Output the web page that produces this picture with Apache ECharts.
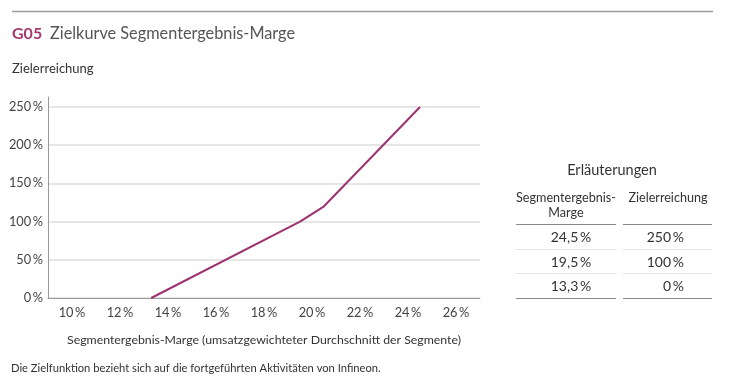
<!DOCTYPE html>
<html><head><meta charset="utf-8">
<script src="https://cdn.jsdelivr.net/npm/echarts@6/dist/echarts.min.js"></script>
<style>html,body{margin:0;padding:0;background:#fff}#c{width:732px;height:383px}</style>
</head><body><div id="c"></div>
<script>
const margins = [13.3, 19.5, 20.5, 24.5];
const achievement = [0, 100, 120, 250];
const tableMargins = ['24,5\u2009%', '19,5\u2009%', '13,3\u2009%'];
const tableAchievement = ['250\u2009%', '100\u2009%', '0\u2009%'];
const titleCode = 'G05';
const titleText = 'Zielkurve Segmentergebnis-Marge';
const yAxisTitle = 'Zielerreichung';
const xAxisTitle = 'Segmentergebnis-Marge (umsatzgewichteter Durchschnitt der Segmente)';
const footnote = 'Die Zielfunktion bezieht sich auf die fortgeführten Aktivitäten von Infineon.';

const FONT = 'Lato';
const chart = echarts.init(document.getElementById('c'));
const rowY = [237, 262, 286];
const g = [
  {type:'line', shape:{x1:12,y1:11.5,x2:713,y2:11.5}, style:{stroke:'#9a9a9a', lineWidth:1.5}},
  {type:'text', x:12, y:34, style:{text:titleCode, font:'bold 16px '+FONT, fill:'#a3386f', verticalAlign:'middle'}},
  {type:'text', x:50, y:34, style:{text:titleText, font:'16.3px '+FONT, fill:'#555', verticalAlign:'middle'}},
  {type:'text', x:12, y:69, style:{text:yAxisTitle, font:'13px '+FONT, fill:'#333', verticalAlign:'middle'}},
  {type:'text', x:11, y:368, style:{text:footnote, font:'11.2px '+FONT, fill:'#333', verticalAlign:'middle'}},
  {type:'text', x:612, y:170, style:{text:'Erläuterungen', font:'14.5px '+FONT, fill:'#333', align:'center', verticalAlign:'middle'}},
  {type:'text', x:566, y:205, style:{text:'Segmentergebnis-\nMarge', font:'12.6px '+FONT, lineHeight:15, fill:'#333', align:'center', verticalAlign:'middle'}},
  {type:'text', x:668, y:198, style:{text:'Zielerreichung', font:'12.6px '+FONT, fill:'#333', align:'center', verticalAlign:'middle'}},
  {type:'line', shape:{x1:516,y1:224.5,x2:616,y2:224.5}, style:{stroke:'#888', lineWidth:1}},
  {type:'line', shape:{x1:623,y1:224.5,x2:712,y2:224.5}, style:{stroke:'#888', lineWidth:1}},
  {type:'line', shape:{x1:516,y1:298.5,x2:616,y2:298.5}, style:{stroke:'#888', lineWidth:1}},
  {type:'line', shape:{x1:623,y1:298.5,x2:712,y2:298.5}, style:{stroke:'#888', lineWidth:1}},
  {type:'line', shape:{x1:516,y1:249.5,x2:616,y2:249.5}, style:{stroke:'#e2e2e2', lineWidth:1}},
  {type:'line', shape:{x1:623,y1:249.5,x2:712,y2:249.5}, style:{stroke:'#e2e2e2', lineWidth:1}},
  {type:'line', shape:{x1:516,y1:273.5,x2:616,y2:273.5}, style:{stroke:'#e2e2e2', lineWidth:1}},
  {type:'line', shape:{x1:623,y1:273.5,x2:712,y2:273.5}, style:{stroke:'#e2e2e2', lineWidth:1}}
];
tableMargins.forEach((t,i)=>g.push({type:'text', x:571, y:rowY[i], style:{text:t, font:'14px '+FONT, fill:'#333', align:'center', verticalAlign:'middle'}}));
tableAchievement.forEach((t,i)=>g.push({type:'text', x:684, y:rowY[i], style:{text:t, font:'14px '+FONT, fill:'#333', align:'right', verticalAlign:'middle'}}));

chart.setOption({
  animation:false,
  grid:{left:48, right:252, top:97, bottom:85},
  xAxis:{type:'value', min:9, max:27, interval:1,
    name:xAxisTitle, nameLocation:'middle', nameGap:36,
    nameTextStyle:{fontFamily:FONT, fontSize:12.3, color:'#333'},
    axisLine:{lineStyle:{color:'#999', width:1}}, axisTick:{show:false},
    splitLine:{show:false},
    axisLabel:{fontFamily:FONT, fontSize:12.8, color:'#444', margin:8,
      formatter:v=> (v%2===0 ? v+'\u2009%' : '')}},
  yAxis:{type:'value', min:0, max:263, interval:50,
    axisLine:{show:true, lineStyle:{color:'#999', width:1}}, axisTick:{show:false},
    splitLine:{show:true, showMaxLine:false, lineStyle:{color:'#dedede', width:1.5}},
    axisLabel:{fontFamily:FONT, fontSize:12.8, color:'#444', margin:5, showMaxLabel:false,
      formatter:v=>v+'\u2009%'}},
  series:[{type:'line', data:margins.map((m,i)=>[m, achievement[i]]), symbol:'none',
    lineStyle:{color:'#9c3270', width:2}}],
  graphic:g
});
</script></body></html>
